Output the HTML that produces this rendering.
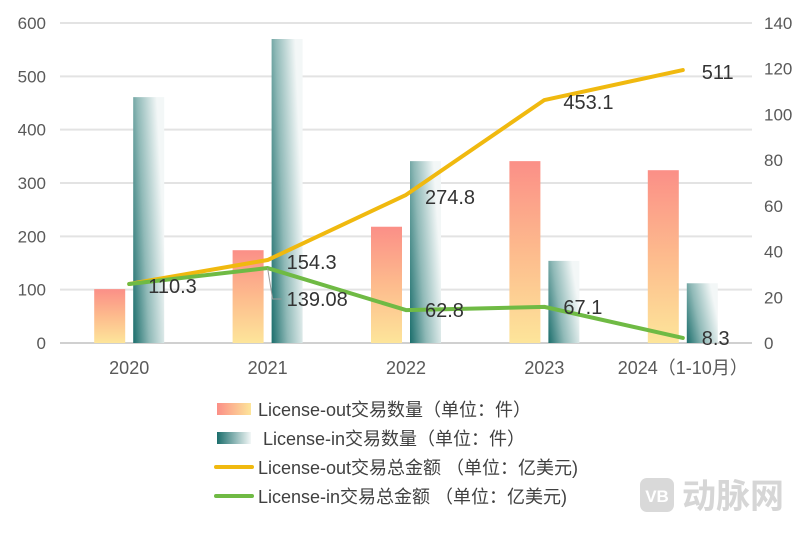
<!DOCTYPE html>
<html><head><meta charset="utf-8"><style>
body{margin:0;background:#fff;}
svg text{font-family:"Liberation Sans","Noto Sans CJK SC",sans-serif;}
</style></head><body>
<svg id="chart" width="812" height="528" viewBox="0 0 812 528" xmlns="http://www.w3.org/2000/svg">
<defs>
<linearGradient id="gOut" x1="0" y1="0" x2="0" y2="1"><stop offset="0" stop-color="#fb8f87"/><stop offset="0.5" stop-color="#fdbb8d"/><stop offset="1" stop-color="#fde59a"/></linearGradient>
<linearGradient id="gIn" x1="0" y1="1" x2="1" y2="0.6"><stop offset="0" stop-color="#1b6e6c"/><stop offset="0.45" stop-color="#8fb9b7"/><stop offset="1" stop-color="#f3f7f7"/></linearGradient>
<linearGradient id="gOutL" x1="0" y1="0" x2="1" y2="0"><stop offset="0" stop-color="#fb8f87"/><stop offset="1" stop-color="#fde59a"/></linearGradient>
<linearGradient id="gInL" x1="0" y1="0" x2="1" y2="0"><stop offset="0" stop-color="#1b6e6c"/><stop offset="1" stop-color="#f3f7f7"/></linearGradient>
</defs>
<g id="grid"></g><g id="bars"></g><g id="lines"></g><g id="labels"></g>
<g>
<rect x="217" y="403" width="34" height="12" fill="url(#gOutL)"/>
<text x="258" y="416" font-size="18" fill="#404040">License-out交易数量（单位：件）</text>
<rect x="217" y="432" width="34" height="12" fill="url(#gInL)"/>
<text x="263" y="445" font-size="18" fill="#404040">License-in交易数量（单位：件）</text>
<line x1="216" y1="467" x2="252" y2="467" stroke="#f0b90f" stroke-width="4" stroke-linecap="round"/>
<text x="258" y="474" font-size="18" fill="#404040">License-out交易总金额 （单位：亿美元)</text>
<line x1="216" y1="496" x2="252" y2="496" stroke="#6fba44" stroke-width="4" stroke-linecap="round"/>
<text x="258" y="503" font-size="18" fill="#404040">License-in交易总金额 （单位：亿美元)</text>
</g>
<g>
<rect x="640" y="478" width="34" height="34" rx="7" fill="#d9d9d9"/>
<text x="657" y="502" font-size="17" fill="#fff" text-anchor="middle" font-weight="bold">VB</text>
<text x="682" y="508" font-size="34" fill="#d6d6d6" font-weight="bold">动脉网</text>
</g>
</svg>
<script>
const categories=["2020","2021","2022","2023","2024（1-10月）"];
const outCount=[101,174,218,341,324];
const inCount=[461,570,341,154,112];
const outAmount=[25.8,36.3,64.8,106.3,119.4];
const inAmount=[25.8,32.8,14.4,15.8,2.2];
const outLabels=["110.3","154.3","274.8","453.1","511"];
const inLabels=["","139.08","62.8","67.1","8.3"];
const leftTicks=[0,100,200,300,400,500,600];
const rightTicks=[0,20,40,60,80,100,120,140];

const NS="http://www.w3.org/2000/svg";
const L=60,R=752,T=23,B=343;
const band=(R-L)/categories.length;
const xc=i=>L+band*(i+0.5);
const yL=v=>B-(v/600)*(B-T);
const yR=v=>B-(v/140)*(B-T);
function mk(tag,attrs,parent){const e=document.createElementNS(NS,tag);for(const k in attrs)e.setAttribute(k,attrs[k]);document.getElementById(parent).appendChild(e);return e;}

leftTicks.forEach(t=>{
  const g=mk('line',{x1:L,x2:R,y1:yL(t),y2:yL(t),stroke:t===0?'#d0d0d0':'#e3e3e3','stroke-width':2},'grid');
  
  
  const tx=mk('text',{x:46,y:yL(t)+6,'font-size':17,fill:'#595959','text-anchor':'end'},'grid');tx.textContent=t;
  
  
});
rightTicks.forEach(t=>{
  const tx=mk('text',{x:764,y:yR(t)+6,'font-size':17,fill:'#595959'},'grid');tx.textContent=t;
  
  
});
categories.forEach((c,i)=>{
  const tx=mk('text',{x:xc(i),y:374,'font-size':18,fill:'#595959','text-anchor':'middle'},'grid');tx.textContent=c;
  
  
  const b1=mk('rect',{x:xc(i)-35,y:yL(outCount[i]),width:31,height:B-yL(outCount[i]),fill:'url(#gOut)'},'bars');
  
  
  const b2=mk('rect',{x:xc(i)+4,y:yL(inCount[i]),width:31,height:B-yL(inCount[i]),fill:'url(#gIn)'},'bars');
  
  
});
const p1=mk('polyline',{points:outAmount.map((v,i)=>xc(i)+','+yR(v)).join(' '),fill:'none',stroke:'#f0b90f','stroke-width':4,'stroke-linejoin':'round','stroke-linecap':'round'},'lines');


const p2=mk('polyline',{points:inAmount.map((v,i)=>xc(i)+','+yR(v)).join(' '),fill:'none',stroke:'#6fba44','stroke-width':4,'stroke-linejoin':'round','stroke-linecap':'round'},'lines');


outLabels.forEach((s,i)=>{
  if(!s)return;
  const tx=mk('text',{x:xc(i)+19,y:yR(outAmount[i])+9,'font-size':20,fill:'#333'},'labels');tx.textContent=s;
  
  
});
inLabels.forEach((s,i)=>{
  if(!s)return;
  let y=yR(inAmount[i])+7;
  if(i===1){y=yR(inAmount[i])+38;
    const ld=mk('polyline',{points:(xc(i))+','+yR(inAmount[i])+' '+(xc(i)+5)+','+(y-7)+' '+(xc(i)+14)+','+(y-7),fill:'none',stroke:'#999','stroke-width':1},'labels');
    
    
  }
  const tx=mk('text',{x:xc(i)+19,y:y,'font-size':20,fill:'#333'},'labels');tx.textContent=s;
  
  
});
</script>
</body></html>
